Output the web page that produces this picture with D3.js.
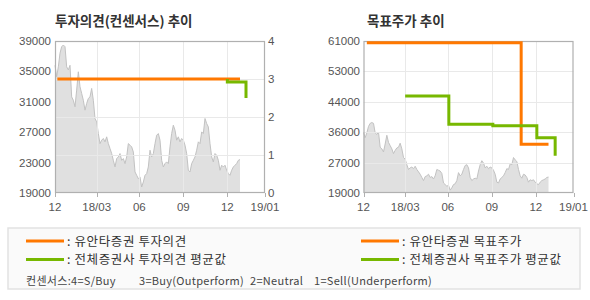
<!DOCTYPE html>
<html><head><meta charset="utf-8">
<script src="https://cdn.jsdelivr.net/npm/d3@7"></script>
<style>
html,body{margin:0;padding:0;background:#fff;}
svg{display:block;}
text{font-family:"Liberation Sans",Arial,sans-serif;}
.kr{font-family:"Noto Sans CJK KR","Noto Sans",sans-serif;}
</style></head>
<body>
<script>
// ---------- data ----------
const xTickLabels = ["12","18/03","06","09","12","19/01"];
const xTickIndex  = [0, 25, 50.6, 77, 103.4, 126];
const xDomainMax = 126;

// daily close price (index = trading-day step)
const price = [35800,34300,35600,37400,38250,38470,38250,35600,35200,35800,
31650,31200,30350,32540,34950,32980,32100,31200,29900,30780,
31440,31650,32760,31200,28800,28360,26820,25500,25950,26170,
25730,26390,25500,24850,24190,23300,22430,23530,23750,24190,
23300,23530,22870,23750,25500,25290,25070,24400,21770,21330,
20890,21110,19790,20450,21330,21550,22430,24630,23750,24190,
25500,26600,26820,25950,23300,22430,22870,23090,22870,25070,
26820,27920,27260,25950,26390,25730,26170,25950,25290,24190,
21990,21770,22870,23300,23750,24630,25730,25500,27040,26820,
28800,28140,27700,25500,23750,23090,24190,23970,23300,21990,
22650,22430,22650,21990,21550,21330,21990,22430,22650,22870,
23300,23400];

// 투자의견 (consensus)
const opinionX   = [1.4, 111];
const opinionVal = [3, 3];
const avgOpinionX   = [103.4, 103.4, 114.6];
const avgOpinionVal = [3.0, 2.92, 2.5];

// 목표주가 (target price)
const targetX   = [2, 94.6, 111];
const targetVal = [60500, 32500, 32500];
const avgTargetX   = [25, 51.2, 77.6, 104, 115];
const avgTargetVal = [45800, 38000, 37600, 34300, 29300];

const leftPriceTicks = [19000,23000,27000,31000,35000,39000];
const opinionTicks = [0,1,2,3,4];
const rightTickVals = [19000,27400,35800,44200,52600,61000];
const rightTickLabels = ["19000","27000","36000","44000","53000","61000"];

const ORANGE = "#ff7800", GREEN = "#77b800";

// ---------- drawing ----------
const svg = d3.select("body").append("svg").attr("width",590).attr("height",300);
const plotTop = 41, plotBottom = 193, W = 210;

function frame(g, x0){
  g.append("rect").attr("x",x0+0.5).attr("y",plotTop+0.5).attr("width",W-1).attr("height",plotBottom-plotTop-1)
    .attr("fill","none").attr("stroke","#b0b0b0").attr("stroke-width",1.2);
}

function chart(x0, yPrice, title, titleX){
  const x = d3.scaleLinear().domain([0,xDomainMax]).range([x0, x0+W]);
  const g = svg.append("g");
  const area = d3.area().x((d,i)=>x(i)).y0(plotBottom).y1(d=>yPrice(d));
  g.append("path").datum(price).attr("d",area).attr("fill","#e0e0e0");
  g.append("path").datum(price).attr("d",d3.line().x((d,i)=>x(i)).y(d=>yPrice(d)))
    .attr("fill","none").attr("stroke","#c2c2c2").attr("stroke-width",1);
  xTickIndex.slice(1,-1).forEach(t=>{
    g.append("line").attr("x1",Math.round(x(t))+0.5).attr("x2",Math.round(x(t))+0.5)
      .attr("y1",plotTop).attr("y2",plotBottom).attr("stroke","#e9e9e9").attr("stroke-width",1);
  });
  xTickIndex.forEach((t,i)=>{
    const xx = Math.round(x(t))+0.5;
    g.append("line").attr("x1",xx).attr("x2",xx).attr("y1",plotBottom).attr("y2",plotBottom+4)
      .attr("stroke","#b0b0b0");
    g.append("text").attr("x",x(t)).attr("y",211).attr("text-anchor","middle")
      .attr("font-size",11.5).attr("fill","#555").text(xTickLabels[i]);
  });
  g.append("text").attr("class","kr").attr("x",titleX).attr("y",26)
    .attr("font-size",13.5).attr("font-weight","bold").attr("fill","#333").text(title);
  return {g, x};
}

// left chart
{
  const x0 = 55;
  const yP = d3.scaleLinear().domain([19000,39000]).range([plotBottom, plotTop]);
  const yO = d3.scaleLinear().domain([0,4]).range([plotBottom, plotTop]);
  const {g, x} = chart(x0, yP, "투자의견(컨센서스) 추이", 55);
  opinionTicks.slice(1,-1).forEach(t=>{
    g.append("line").attr("x1",x0).attr("x2",x0+W).attr("y1",Math.round(yO(t))+0.5).attr("y2",Math.round(yO(t))+0.5)
      .attr("stroke","#e9e9e9");
  });
  leftPriceTicks.forEach(t=>{
    g.append("text").attr("x",51).attr("y",yP(t)+4).attr("text-anchor","end")
      .attr("font-size",11.5).attr("fill","#555").text(t);
  });
  opinionTicks.forEach(t=>{
    g.append("text").attr("x",268).attr("y",yO(t)+4).attr("text-anchor","start")
      .attr("font-size",11.5).attr("fill","#555").text(t);
  });
  frame(g, x0);
  const line = d3.line().curve(d3.curveStepAfter).x(d=>x(d[0])).y(d=>yO(d[1]));
  g.append("path").datum(d3.zip(opinionX, opinionVal)).attr("d",line)
    .attr("fill","none").attr("stroke",ORANGE).attr("stroke-width",3);
  g.append("path").datum(d3.zip(avgOpinionX, avgOpinionVal)).attr("d",line)
    .attr("fill","none").attr("stroke",GREEN).attr("stroke-width",3);
}

// right chart
{
  const x0 = 363.5;
  const yP = d3.scaleLinear().domain([19000,61000]).range([plotBottom, plotTop]);
  const {g, x} = chart(x0, yP, "목표주가 추이", 367);
  rightTickVals.slice(1,-1).forEach(t=>{
    g.append("line").attr("x1",x0).attr("x2",x0+W).attr("y1",Math.round(yP(t))+0.5).attr("y2",Math.round(yP(t))+0.5)
      .attr("stroke","#e9e9e9");
  });
  rightTickVals.forEach((t,i)=>{
    g.append("text").attr("x",360).attr("y",yP(t)+4).attr("text-anchor","end")
      .attr("font-size",11.5).attr("fill","#555").text(rightTickLabels[i]);
  });
  frame(g, x0);
  const line = d3.line().curve(d3.curveStepAfter).x(d=>x(d[0])).y(d=>yP(d[1]));
  g.append("path").datum(d3.zip(targetX, targetVal)).attr("d",line)
    .attr("fill","none").attr("stroke",ORANGE).attr("stroke-width",3);
  g.append("path").datum(d3.zip(avgTargetX, avgTargetVal)).attr("d",line)
    .attr("fill","none").attr("stroke",GREEN).attr("stroke-width",3);
}

// legend
{
  const lg = svg.append("g");
  lg.append("rect").attr("x",8).attr("y",228).attr("width",572).attr("height",61)
    .attr("fill","#fafafa").attr("stroke","#e2e2e2").attr("stroke-width",1.5);
  const items = [
    {x:26, y:241, c:ORANGE, t:": 유안타증권 투자의견"},
    {x:26, y:259.5, c:GREEN, t:": 전체증권사 투자의견 평균값"},
    {x:361, y:241, c:ORANGE, t:": 유안타증권 목표주가"},
    {x:361, y:259.5, c:GREEN, t:": 전체증권사 목표주가 평균값"}
  ];
  items.forEach(d=>{
    lg.append("line").attr("x1",d.x).attr("x2",d.x+38).attr("y1",d.y).attr("y2",d.y)
      .attr("stroke",d.c).attr("stroke-width",3);
    lg.append("text").attr("class","kr").attr("x",d.x+41).attr("y",d.y+4.5)
      .attr("font-size",12.5).attr("letter-spacing",0.6).attr("fill","#333").text(d.t);
  });
  const cons = [
    {x:26, t:"컨센서스:4=S/Buy"},
    {x:139, t:"3=Buy(Outperform)"},
    {x:250, t:"2=Neutral"},
    {x:314, t:"1=Sell(Underperform)"}
  ];
  cons.forEach(d=>{
    lg.append("text").attr("class","kr").attr("x",d.x).attr("y",285)
      .attr("font-size",11).attr("letter-spacing",0.3).attr("fill","#444").text(d.t);
  });
}
</script>
</body></html>
